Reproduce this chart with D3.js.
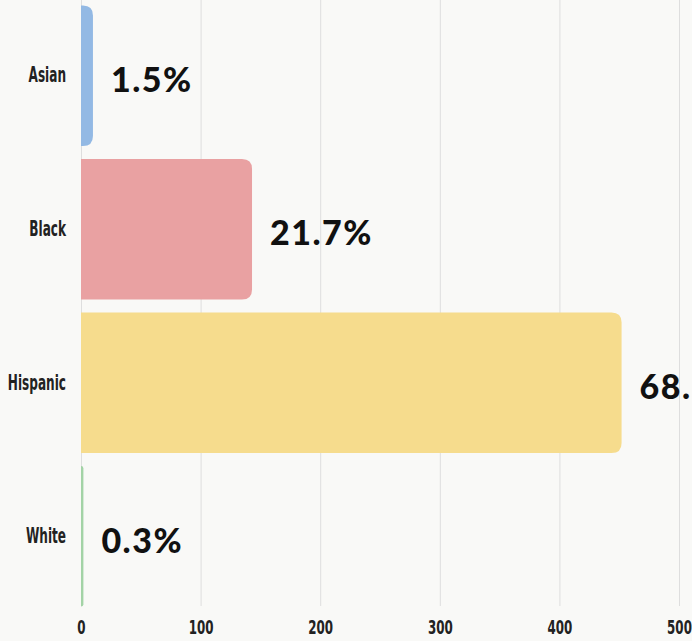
<!DOCTYPE html>
<html>
<head>
<meta charset="utf-8">
<script src="https://cdn.jsdelivr.net/npm/d3@7"></script>
<style>
  html, body { margin: 0; padding: 0; background: #f9f9f7; }
  svg { display: block; }
</style>
</head>
<body>
<svg id="chart" width="692" height="641"></svg>
<script>
const categories = ["Asian", "Black", "Hispanic", "White"];
const values = [10, 143, 452, 2];
const valueLabels = ["1.5%", "21.7%", "68.5%", "0.3%"];
const colors = ["#93b9e4", "#e9a1a2", "#f6dc8d", "#a3d3a6"];
const xTicks = [0, 100, 200, 300, 400, 500];

const svg = d3.select("#chart");
const W = 692, H = 641;

const x = d3.scaleLinear().domain([0, 500]).range([81, 679]);
const y = d3.scaleBand().domain(categories).range([0, 612]).paddingInner(0.085).paddingOuter(0.035);

svg.append("rect").attr("width", W).attr("height", H).attr("fill", "#f9f9f7");

// gridlines
svg.append("g").selectAll("line").data(xTicks).join("line")
  .attr("x1", d => x(d) + 0.5).attr("x2", d => x(d) + 0.5)
  .attr("y1", 0).attr("y2", 606)
  .attr("stroke", "#dedede").attr("stroke-width", 1);

function barPath(x0, x1, y0, h, r) {
  const w = x1 - x0;
  const rr = Math.min(r, w, h / 2);
  const p = d3.path();
  p.moveTo(x0, y0);
  p.lineTo(x1 - rr, y0);
  p.quadraticCurveTo(x1, y0, x1, y0 + rr);
  p.lineTo(x1, y0 + h - rr);
  p.quadraticCurveTo(x1, y0 + h, x1 - rr, y0 + h);
  p.lineTo(x0, y0 + h);
  p.closePath();
  return p.toString();
}

const data = categories.map((c, i) => ({c, v: values[i], label: valueLabels[i], color: colors[i]}));

svg.append("g").selectAll("path").data(data).join("path")
  .attr("d", d => barPath(x(0), x(d.v), y(d.c), y.bandwidth(), 10))
  .attr("fill", d => d.color);

// value labels
svg.append("g").selectAll("text").data(data).join("text")
  .attr("x", d => x(d.v) + 18)
  .attr("y", d => y(d.c) + y.bandwidth() / 2 + 4)
  .attr("dy", "0.36em")
  .attr("font-family", "Lato, 'Open Sans', sans-serif")
  .attr("font-weight", 900)
  .attr("font-size", 34)
  .attr("letter-spacing", "1.5px")
  .attr("fill", "#111")
  .text(d => d.label);

const condensed = "'DejaVu Sans Condensed', 'DejaVu Sans', sans-serif";

// y axis labels
const yAxis = d3.axisLeft(y).tickSize(0).tickPadding(0);
const gy = svg.append("g").attr("transform", "translate(66,0)").call(yAxis);
gy.select(".domain").remove();
gy.selectAll("text")
  .attr("font-family", condensed)
  .attr("font-weight", "bold")
  .attr("font-size", 21)
  .attr("transform", "scale(0.64,1)")
  .attr("fill", "#222");

// x axis labels
const xAxis = d3.axisBottom(x).tickValues(xTicks).tickSize(0).tickPadding(0);
const gx = svg.append("g").attr("transform", "translate(0,620)").call(xAxis);
gx.select(".domain").remove();
gx.selectAll("text")
  .attr("font-family", condensed)
  .attr("font-weight", "bold")
  .attr("font-size", 20)
  .attr("transform", "scale(0.66,1)")
  .attr("fill", "#222");
</script>
</body>
</html>
